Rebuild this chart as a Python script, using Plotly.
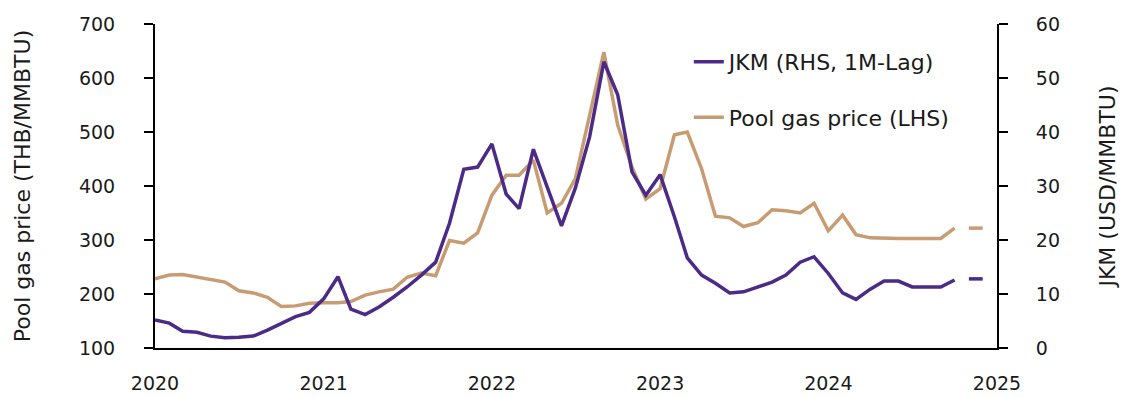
import pandas as pd
import plotly.graph_objects as go

# Monthly observations, Jan 2020 - Oct 2024
months = pd.date_range("2020-01-01", "2024-10-01", freq="MS")

pool_gas = [
    228, 235, 236, 231, 226, 222, 206, 202, 194, 177, 178, 183,   # 2020
    184, 184, 186, 198, 204, 209, 231, 239, 234, 299, 294, 313,   # 2021
    383, 420, 420, 448, 350, 368, 413, 528, 648, 513, 435, 376,   # 2022
    395, 495, 500, 432, 344, 341, 325, 332, 356, 354, 350, 368,   # 2023
    317, 346, 310, 304, 303, 303, 303, 303, 303, 322,             # 2024
]

jkm_lag = [
    5.2, 4.6, 3.1, 2.9, 2.2, 1.9, 2.0, 2.2, 3.3, 4.6, 5.8, 6.6,           # 2020
    9.1, 13.2, 7.2, 6.2, 7.6, 9.4, 11.3, 13.5, 15.9, 23.1, 33.1, 33.5,    # 2021
    37.8, 28.5, 25.8, 36.8, 29.8, 22.6, 29.6, 39.1, 53.0, 46.9, 32.6, 28.3,  # 2022
    32.1, 24.3, 16.7, 13.5, 12.0, 10.2, 10.4, 11.3, 12.2, 13.5, 15.9, 16.9,  # 2023
    13.8, 10.2, 9.0, 10.9, 12.4, 12.4, 11.3, 11.3, 11.3, 12.6,             # 2024
]

# Projection for the final two months of 2024
proj_months = ["2024-11-01", "2024-12-01"]
pool_gas_proj = [322, 322]
jkm_lag_proj = [12.8, 12.8]

PURPLE = "#4b2a88"
TAN = "#c89c72"
FONT = "DejaVu Sans"

fig = go.Figure()

fig.add_trace(go.Scatter(
    x=months, y=pool_gas, name="Pool gas price (LHS)", mode="lines",
    line=dict(color=TAN, width=3.5), yaxis="y", legendrank=2, legendgroup="pool",
))
fig.add_trace(go.Scatter(
    x=proj_months, y=pool_gas_proj, mode="lines", showlegend=False,
    line=dict(color=TAN, width=3.5, dash="30px,10px"), yaxis="y",
))
fig.add_trace(go.Scatter(
    x=months, y=jkm_lag, name="JKM (RHS, 1M-Lag)", mode="lines",
    line=dict(color=PURPLE, width=3.5), yaxis="y2", legendrank=1, legendgroup="jkm",
))
fig.add_trace(go.Scatter(
    x=proj_months, y=jkm_lag_proj, mode="lines", showlegend=False,
    line=dict(color=PURPLE, width=3.5, dash="30px,10px"), yaxis="y2",
))

tick_font = dict(family=FONT, size=19, color="#1a1a1a")
text_font = dict(family=FONT, size=22, color="#1a1a1a")

fig.update_layout(
    width=1127, height=397,
    margin=dict(l=155, r=130, t=24, b=49),
    paper_bgcolor="white", plot_bgcolor="white",
    font=tick_font,
    showlegend=True,
    legend=dict(
        x=0.634, y=0.948, xanchor="left", yanchor="top",
        bgcolor="rgba(0,0,0,0)", font=text_font,
        traceorder="grouped", tracegroupgap=24,
    ),
    xaxis=dict(
        type="date", range=["2020-01-01", "2025-01-01"],
        dtick="M12", tickformat="%Y", tick0="2020-01-01",
        showgrid=False, zeroline=False, showline=True, linecolor="black", linewidth=2,
        ticks="", ticklabelstandoff=17, tickfont=tick_font, automargin=False,
    ),
    yaxis=dict(
        range=[100, 700], dtick=100, showgrid=False, zeroline=False,
        showline=True, linecolor="black", linewidth=2,
        ticks="outside", ticklen=9, tickwidth=2, tickcolor="black",
        ticklabelstandoff=25, tickfont=tick_font, automargin=False,
        title=dict(text="Pool gas price (THB/MMBTU)", font=text_font, standoff=42),
    ),
    yaxis2=dict(
        range=[0, 60], dtick=10, overlaying="y", side="right",
        showgrid=False, zeroline=False,
        showline=True, linecolor="black", linewidth=2,
        ticks="outside", ticklen=9, tickwidth=2, tickcolor="black",
        ticklabelstandoff=24, tickfont=tick_font, automargin=False,
        title=dict(text="JKM (USD/MMBTU)", font=text_font, standoff=41),
    ),
)

fig.write_html("out.html")
